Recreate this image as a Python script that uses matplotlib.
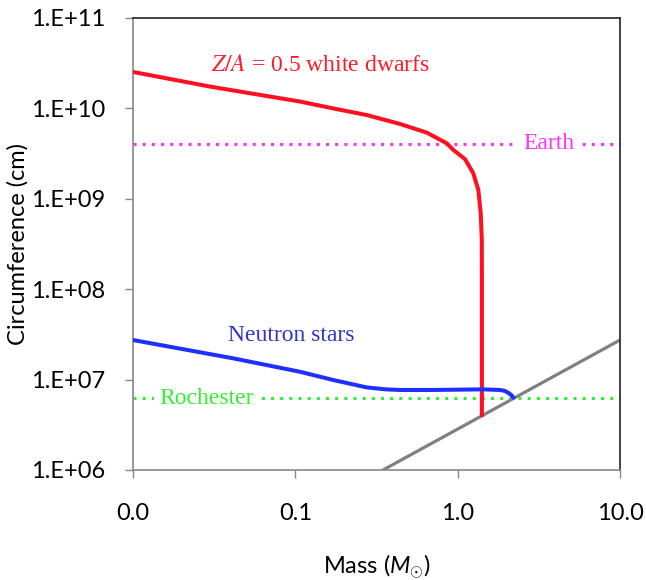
import numpy as np
import matplotlib
matplotlib.use('Agg')
import matplotlib.pyplot as plt
from matplotlib.ticker import FixedLocator, FixedFormatter, NullLocator

plt.rcParams['font.family'] = ['Lato', 'DejaVu Sans']
plt.rcParams['mathtext.fontset'] = 'custom'
plt.rcParams['mathtext.rm'] = 'Lato'
plt.rcParams['mathtext.it'] = 'Lato:italic'

# white dwarf curve (Z/A = 0.5), mass in solar masses, circumference in cm
wd_mass = [0.01, 0.03, 0.107, 0.171, 0.275, 0.441, 0.645, 0.857, 0.941, 1.111, 1.249, 1.341,
           1.387, 1.408, 1.41, 1.41]
wd_circ = [2.53e10, 1.74e10, 1.19e10, 1.0e10, 8.45e9, 6.73e9, 5.4e9, 4.11e9, 3.47e9, 2.74e9, 1.91e9, 1.25e9,
           6.9e8, 3.5e8, 1.5e8, 4.06e6]

# neutron star curve
ns_mass = [0.01, 0.0413, 0.107, 0.171, 0.275, 0.36, 0.441, 0.705, 1.43, 1.82, 1.95, 2.05, 2.13, 2.20]
ns_circ = [2.74e7, 1.72e7, 1.22e7, 9.9e6, 8.2e6, 7.8e6, 7.68e6, 7.68e6, 7.8e6, 7.68e6, 7.5e6, 7.15e6, 6.8e6, 6.37e6]

# black hole line
bh_mass = [0.347, 10.0]
bh_circ = [1.0e6, 2.74e7]

earth_circ = 4.04e9
rochester_circ = 6.25e6

x_ticks = [0.01, 0.1, 1.0, 10.0]
x_ticklabels = ['0.0', '0.1', '1.0', '10.0']
y_ticks = [1e6, 1e7, 1e8, 1e9, 1e10, 1e11]
y_ticklabels = ['1.E+06', '1.E+07', '1.E+08', '1.E+09', '1.E+10', '1.E+11']

fig = plt.figure(figsize=(6.46, 5.8), dpi=100)
ax = fig.add_axes([133/646, 1 - 470/580, (620-133)/646, (470-18)/580])

ax.plot([0.01, 10], [rochester_circ]*2, color='#33EE33', lw=2.2, ls=(0, (1, 2)), zorder=1)
ax.plot([0.01, 10], [earth_circ]*2, color='#FF33FF', lw=2.2, ls=(0, (1, 2)), zorder=1)
ax.plot(bh_mass, bh_circ, color='#808080', lw=2.3, zorder=2)
ax.plot(wd_mass, wd_circ, color='#FF0F1F', lw=2.9, zorder=3, solid_joinstyle='round')
ax.plot(ns_mass, ns_circ, color='#1F2FFF', lw=2.9, zorder=3, solid_joinstyle='round')

ax.set_xscale('log')
ax.set_yscale('log')
ax.set_xlim(0.01, 10)
ax.set_ylim(1e6, 1e11)

ax.xaxis.set_major_locator(FixedLocator(x_ticks))
ax.xaxis.set_major_formatter(FixedFormatter(x_ticklabels))
ax.xaxis.set_minor_locator(NullLocator())
ax.yaxis.set_major_locator(FixedLocator(y_ticks))
ax.yaxis.set_major_formatter(FixedFormatter(y_ticklabels))
ax.yaxis.set_minor_locator(NullLocator())

ax.tick_params(axis='both', direction='out', length=6, width=1, color='#888888', labelsize=17)
ax.tick_params(axis='y', pad=14)
ax.tick_params(axis='x', pad=18)

for s in ['left', 'bottom']:
    ax.spines[s].set_color('#888888')
    ax.spines[s].set_linewidth(1.2)
for s in ['top', 'right']:
    ax.spines[s].set_color('#222222')
    ax.spines[s].set_linewidth(1.2)

ax.set_xlabel(r'Mass ($M_{\odot}$)', fontsize=17, labelpad=20)
ax.set_ylabel('Circumference (cm)', fontsize=17, labelpad=2)

serif = ['Liberation Serif', 'DejaVu Serif']
ax.text(0.142, 3.02e10, r'$Z/A$ = 0.5 white dwarfs', color='#FF1A2A', fontsize=17,
        family=serif, math_fontfamily='stix', ha='center', va='center')
ax.text(3.66, earth_circ, 'Earth', color='#FF33FF', fontsize=17, family=serif,
        ha='center', va='center', bbox=dict(facecolor='white', edgecolor='none', pad=4), zorder=4)
ax.text(0.094, 3.11e7, 'Neutron stars', color='#3535C8', fontsize=17, family=serif,
        ha='center', va='center')
ax.text(0.0286, rochester_circ, 'Rochester', color='#33EE33', fontsize=17, family=serif,
        ha='center', va='center', bbox=dict(facecolor='white', edgecolor='none', pad=4), zorder=4)

fig.savefig('out.png', dpi=100)
